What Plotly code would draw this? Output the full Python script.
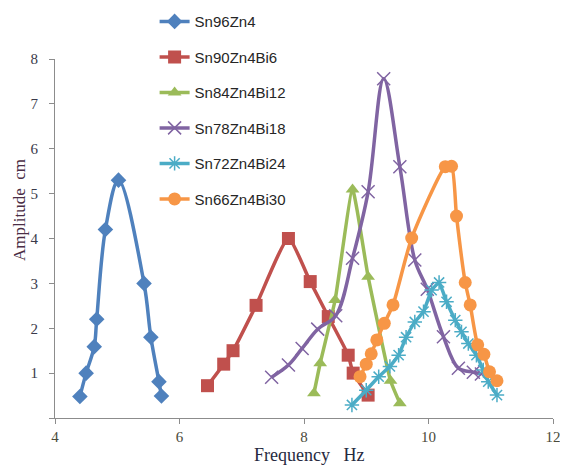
import plotly.graph_objects as go

# ---- data ----
names = ["Sn96Zn4", "Sn90Zn4Bi6", "Sn84Zn4Bi12", "Sn78Zn4Bi18", "Sn72Zn4Bi24", "Sn66Zn4Bi30"]

x_sn96 = [4.40, 4.50, 4.63, 4.67, 4.81, 5.02, 5.43, 5.54, 5.67, 5.71]
y_sn96 = [0.48, 1.00, 1.59, 2.20, 4.20, 5.30, 3.00, 1.80, 0.81, 0.49]

x_sn90 = [6.45, 6.71, 6.86, 7.23, 7.75, 8.10, 8.39, 8.71, 8.79, 9.03]
y_sn90 = [0.72, 1.20, 1.50, 2.51, 4.00, 3.04, 2.26, 1.40, 1.00, 0.51]

x_sn84 = [8.16, 8.26, 8.50, 8.78, 9.03, 9.39, 9.54]
y_sn84 = [0.55, 1.22, 2.63, 5.09, 3.15, 0.83, 0.33]

x_sn78 = [7.48, 7.75, 7.97, 8.22, 8.51, 8.78, 9.03, 9.28, 9.54, 9.78, 9.98, 10.24, 10.48, 10.72, 10.85]
y_sn78 = [0.91, 1.18, 1.55, 1.98, 2.28, 3.56, 5.04, 7.56, 5.60, 3.52, 2.87, 1.81, 1.11, 1.02, 0.98]

x_sn72 = [8.77, 9.00, 9.20, 9.38, 9.52, 9.64, 9.78, 9.92, 10.05, 10.17, 10.29, 10.43, 10.53, 10.64, 10.77, 10.88, 10.96, 11.10]
y_sn72 = [0.29, 0.62, 0.92, 1.15, 1.40, 1.80, 2.14, 2.37, 2.85, 3.02, 2.59, 2.18, 1.92, 1.66, 1.40, 1.07, 0.81, 0.51]

x_sn66 = [8.90, 9.00, 9.08, 9.17, 9.29, 9.43, 9.73, 10.27, 10.37, 10.45, 10.59, 10.67, 10.79, 10.89, 10.98, 11.10]
y_sn66 = [0.92, 1.20, 1.43, 1.74, 2.11, 2.52, 4.01, 5.60, 5.61, 4.50, 3.02, 2.52, 1.63, 1.42, 1.03, 0.83]

x_ticks = [4, 6, 8, 10, 12]
y_ticks = [0, 1, 2, 3, 4, 5, 6, 7, 8]
y_tick_text = ["", "1", "2", "3", "4", "5", "6", "7", "8"]

series = [
    (x_sn96, y_sn96),
    (x_sn90, y_sn90),
    (x_sn84, y_sn84),
    (x_sn78, y_sn78),
    (x_sn72, y_sn72),
    (x_sn66, y_sn66),
]

colors = ["#4F81BD", "#C0504D", "#9BBB59", "#8064A2", "#4BACC6", "#F79646"]
symbols = ["diamond", "square", "triangle-up", "x-thin-open", "asterisk-open", "circle"]
sizes = [12, 13, 12, 13, 12, 13]
smooth = [1.0, 0.5, 0.4, 1.0, 0.3, 0.6]

fig = go.Figure()
for i, (xs, ys) in enumerate(series):
    open_sym = symbols[i].endswith("-open")
    fig.add_trace(go.Scatter(
        x=xs, y=ys, name=names[i], mode="lines+markers",
        legendgroup=names[i],
        line=dict(color=colors[i], width=3.5, shape="spline", smoothing=smooth[i]),
        marker=dict(symbol=symbols[i], size=sizes[i], color=colors[i],
                    line=dict(color=colors[i], width=1.5 if open_sym else 0)),
    ))

serif = "Liberation Serif, Times New Roman, serif"

# the page adds an 8px body margin, so the figure is sized to fit the window
fig.update_layout(
    width=560, height=458,
    margin=dict(l=47, r=15, t=51, b=48, autoexpand=False),
    paper_bgcolor="white", plot_bgcolor="white",
    showlegend=True,
    legend=dict(x=0.2, y=1.15, xanchor="left", yanchor="top",
                font=dict(family="Liberation Sans, Arial, sans-serif", size=15, color="#262626"),
                traceorder="grouped", tracegroupgap=13, bgcolor="rgba(0,0,0,0)",
                itemwidth=30),
    xaxis=dict(range=[4, 12], tickvals=x_ticks, showgrid=False, zeroline=False,
               showline=True, linecolor="#8c8c8c", linewidth=1.2,
               ticks="outside", ticklen=5, tickcolor="#8c8c8c",
               tickfont=dict(family=serif, size=15, color="#4a4a3a")),
    yaxis=dict(range=[0, 8], tickvals=y_ticks, ticktext=y_tick_text, showgrid=False, zeroline=False,
               showline=True, linecolor="#8c8c8c", linewidth=1.2,
               ticks="outside", ticklen=5, tickcolor="#8c8c8c", ticklabelstandoff=8,
               tickfont=dict(family=serif, size=15, color="#3a3a4a")),
    annotations=[
        dict(text="Amplitude\u00a0\u00a0cm", xref="paper", yref="paper", x=-0.07, y=0.58,
             textangle=-90, showarrow=False, xanchor="center", yanchor="middle",
             font=dict(family=serif, size=17, color="#4a2d45")),
        dict(text="Frequency\u00a0\u00a0\u00a0Hz", xref="paper", yref="paper", x=0.51, y=-0.103,
             showarrow=False, xanchor="center", yanchor="middle",
             font=dict(family=serif, size=18, color="#262a40")),
    ],
)

fig.write_html("out.html")
